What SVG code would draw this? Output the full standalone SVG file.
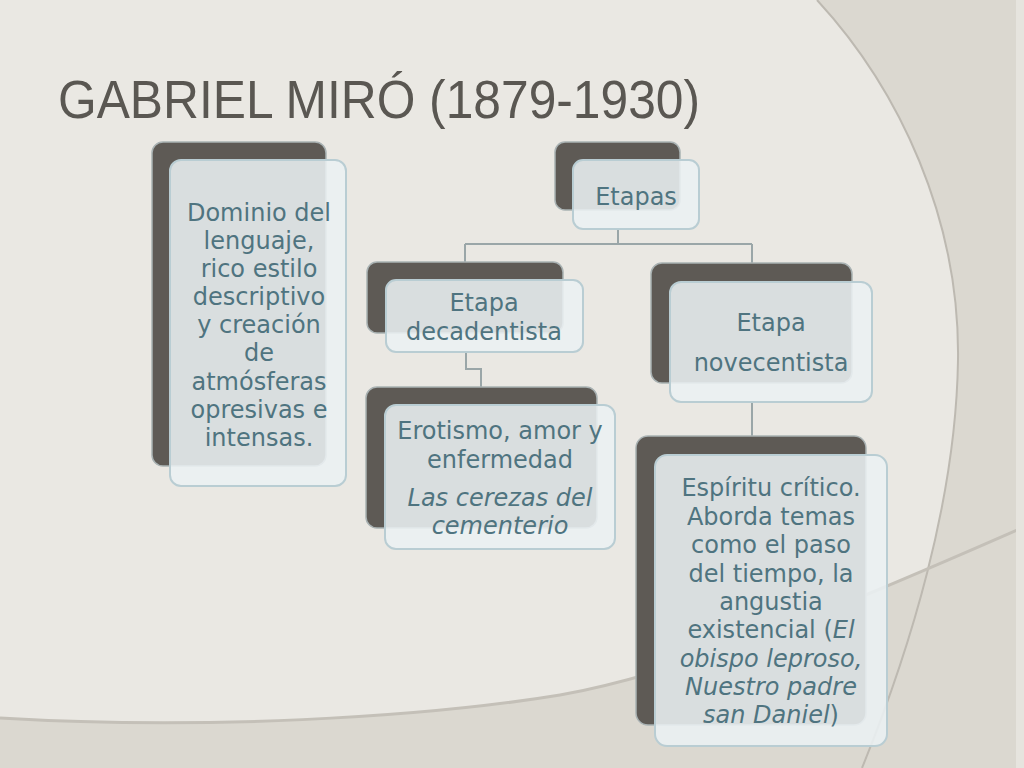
<svg xmlns="http://www.w3.org/2000/svg" width="1024" height="768" viewBox="0 0 1024 768">
<defs>
<style>
.back{fill:#5e5a55;stroke:#a9b2b3;stroke-width:1.5}
.front{fill:#ebf0f3;fill-opacity:0.88;stroke:#b9cdd3;stroke-width:2}
.t{font-family:"DejaVu Sans","Liberation Sans",sans-serif;font-size:24px;fill:#4f7480;text-anchor:middle}
.i{font-style:italic}
.conn{fill:none;stroke:#9aa6a8;stroke-width:2}
</style>
</defs>
<rect x="0" y="0" width="1024" height="768" fill="#eae8e3"/>
<path d="M817,0 C900,90 960,220 958,360 C956,500 910,650 862,768 L1024,768 L1024,0 Z" fill="#dbd8d0"/>
<path d="M0,718 C200,730 420,718 560,695 C700,670 880,590 1024,527 L1024,768 L0,768 Z" fill="#dbd8d0"/>
<path d="M817,0 C900,90 960,220 958,360 C956,500 910,650 862,768" fill="none" stroke="#bdb9b1" stroke-width="2"/>
<path d="M0,718 C200,730 420,718 560,695 C700,670 880,590 1024,527" fill="none" stroke="#c4c0b8" stroke-width="3"/>
<rect x="1016" y="0" width="8" height="768" fill="#e6e4de"/>
<text x="58" y="118" font-family="Liberation Sans, Arial, sans-serif" font-size="54" fill="#5a5752" textLength="642" lengthAdjust="spacingAndGlyphs">GABRIEL MIRÓ (1879-1930)</text>
<g id="connectors">
<path class="conn" d="M618,229 V244 M465,244 H752 M465,244 V263 M752,244 V263"/>
<path class="conn" d="M466,352 V369 H481 V387"/>
<path class="conn" d="M752,402 V437"/>
</g>
<g id="node-dominio">
<rect class="back" x="152" y="142" width="174" height="324" rx="11"/>
<rect class="front" x="170" y="160" width="176" height="326" rx="11"/>
<text class="t"><tspan x="259" y="221">Dominio del</tspan><tspan x="259" y="249">lenguaje,</tspan><tspan x="259" y="277">rico estilo</tspan><tspan x="259" y="305">descriptivo</tspan><tspan x="259" y="333">y creación</tspan><tspan x="259" y="361">de</tspan><tspan x="259" y="390">atmósferas</tspan><tspan x="259" y="418">opresivas e</tspan><tspan x="259" y="446">intensas.</tspan></text>
</g>
<g id="node-etapas">
<rect class="back" x="555" y="142" width="125" height="68" rx="10"/>
<rect class="front" x="573" y="160" width="126" height="69" rx="10"/>
<text class="t" x="636" y="205">Etapas</text>
</g>
<g id="node-decadentista">
<rect class="back" x="367" y="262" width="196" height="71" rx="10"/>
<rect class="front" x="386" y="280" width="197" height="72" rx="10"/>
<text class="t"><tspan x="484" y="311">Etapa</tspan><tspan x="484" y="340">decadentista</tspan></text>
</g>
<g id="node-erotismo">
<rect class="back" x="366" y="387" width="231" height="141" rx="11"/>
<rect class="front" x="385" y="405" width="230" height="144" rx="11"/>
<text class="t"><tspan x="500" y="439">Erotismo, amor y</tspan><tspan x="500" y="468">enfermedad</tspan><tspan class="i" x="500" y="506">Las cerezas del</tspan><tspan class="i" x="500" y="534">cementerio</tspan></text>
</g>
<g id="node-novecentista">
<rect class="back" x="651" y="263" width="201" height="120" rx="11"/>
<rect class="front" x="670" y="282" width="202" height="120" rx="11"/>
<text class="t"><tspan x="771" y="331">Etapa</tspan><tspan x="771" y="371">novecentista</tspan></text>
</g>
<g id="node-espiritu">
<rect class="back" x="636" y="436" width="230" height="289" rx="12"/>
<rect class="front" x="655" y="455" width="232" height="291" rx="12"/>
<text class="t"><tspan x="771" y="496">Espíritu crítico.</tspan><tspan x="771" y="525">Aborda temas</tspan><tspan x="771" y="553">como el paso</tspan><tspan x="771" y="582">del tiempo, la</tspan><tspan x="771" y="610">angustia</tspan><tspan x="771" y="638">existencial (<tspan class="i">El</tspan></tspan><tspan class="i" x="771" y="667">obispo leproso,</tspan><tspan class="i" x="771" y="695">Nuestro padre</tspan><tspan x="771" y="723"><tspan class="i">san Daniel</tspan>)</tspan></text>
</g>
</svg>
